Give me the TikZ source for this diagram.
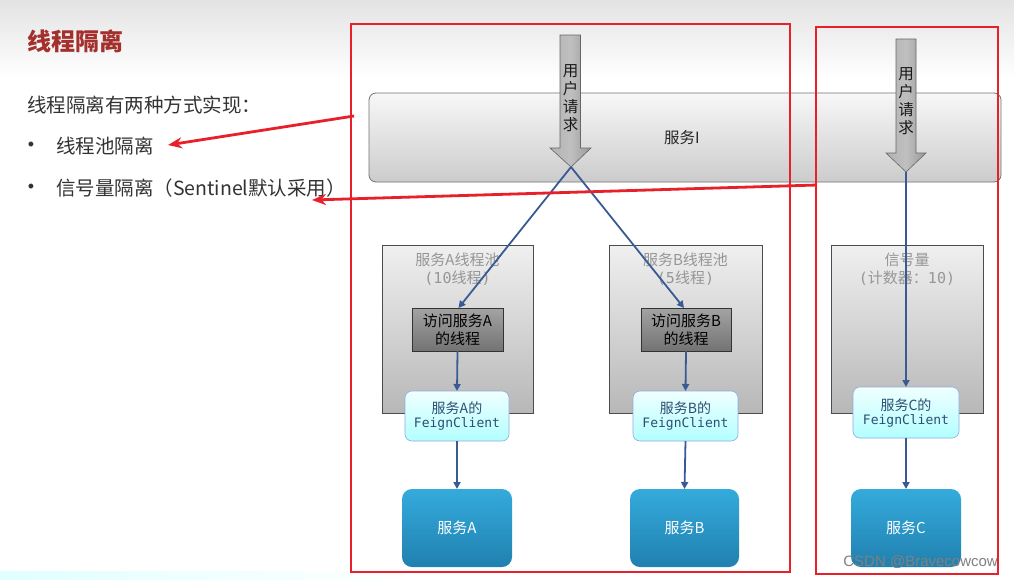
\documentclass[tikz,border=0pt]{standalone}
\usepackage{fontspec}
\setmainfont{Noto Sans CJK SC}
\newfontfamily\monof{DejaVu Sans Mono}
\newfontfamily\latinf{Liberation Sans}
\usetikzlibrary{arrows.meta}
\definecolor{redline}{HTML}{E8202A}
\definecolor{titlered}{HTML}{A3302C}
\definecolor{blueline}{HTML}{3A5A94}
\definecolor{bodytext}{HTML}{333333}
\definecolor{pooltext}{HTML}{969696}
\definecolor{feigntext}{HTML}{2B4F73}
\tikzset{
  nw/.style={anchor=north west, inner sep=0pt, outer sep=0pt},
  svcbar/.style={nw, draw=black!55, line width=0.8pt, rounded corners=7pt, top color=black!3, bottom color=black!20},
  poolbox/.style={nw, draw=black!70, line width=0.8pt, top color=black!6, bottom color=black!28},
  threadbox/.style={nw, draw=black!80, line width=0.8pt, top color=black!36, bottom color=black!55, align=center, font=\fontsize{15}{18}\selectfont, text=black},
  feignbox/.style={nw, draw=cyan!45!blue!45, line width=0.6pt, rounded corners=7pt, top color=cyan!6, bottom color=cyan!30, align=center, text=feigntext},
  svcbox/.style={nw, draw=none, rounded corners=10pt, top color={rgb,255:red,52;green,171;blue,220}, bottom color={rgb,255:red,32;green,128;blue,175}, text=white, font=\fontsize{15}{18}\selectfont},
  pooltxt/.style={text=pooltext, font=\fontsize{15}{17}\selectfont, inner sep=0pt},
  blockarrow/.style={draw=black!60, line width=0.6pt, left color=black!30, right color=black!40, middle color=black!25},
  vtxt/.style={align=center, font=\fontsize{15.5}{18}\selectfont, inner sep=0pt, text=black!90},
  bluearrow/.style={draw=blueline, line width=1.8pt, -{Triangle[length=7pt,width=7pt]}},
  redbox/.style={draw=redline, line width=1.8pt},
  redarrow/.style={draw=redline, line width=2.8pt, -{Stealth[length=14pt,width=11pt]}},
  bullettxt/.style={anchor=center, inner sep=0pt, text=bodytext, font=\latinf\fontsize{18}{20}\selectfont},
  bodytxt/.style={anchor=west, inner sep=0pt, text=bodytext, font=\fontsize{19.5}{24}\selectfont},
}
\newcommand{\ftext}[1]{{\fontsize{14}{17}\selectfont #1}\\[2pt]{\monof\fontsize{13}{16}\selectfont FeignClient}}
\begin{document}
\begin{tikzpicture}[x=1pt,y=-1pt]
\useasboundingbox (0,0) rectangle (1014,579);
\fill[white] (0,0) rectangle (1014,579);
\shade[top color=black!11, bottom color=white] (0,0) rectangle (1014,78);
\shade[left color=cyan!12, right color=white] (0,571) rectangle (420,579);

% left texts
\node[anchor=west, inner sep=0pt, text=titlered, font=\fontsize{24}{28}\selectfont\bfseries] (title) at (27,41) {线程隔离};
\node[bodytxt] (intro) at (27,105) {线程隔离有两种方式实现：};
\node[bullettxt] (dot1) at (31,146) {•};
\node[bodytxt] (b1) at (56,146) {线程池隔离};
\node[bullettxt] (dot2) at (31,188) {•};
\node[bodytxt] (b2) at (56,188) {信号量隔离（Sentinel默认采用）};

% service I bar
\node[svcbar, minimum width=632pt, minimum height=89pt] (svcI) at (369,93) {};
\node[inner sep=0pt, font=\fontsize{15.5}{17}\selectfont, text=black!85] (svcIt) at (682,138) {服务I};

% pools
\node[poolbox, minimum width=151pt, minimum height=168pt] (poolA) at (382,245) {};
\node[pooltxt] (poolAt1) at (457.5,260) {服务A线程池};
\node[pooltxt] (poolAt2) at (457.5,278) {{\monof(10}线程{\monof)}};
\node[poolbox, minimum width=153pt, minimum height=168pt] (poolB) at (609,245) {};
\node[pooltxt] (poolBt1) at (685.5,260) {服务B线程池};
\node[pooltxt] (poolBt2) at (685.5,278) {{\monof(5}线程{\monof)}};
\node[poolbox, minimum width=152pt, minimum height=168pt] (sem) at (831,245) {};
\node[pooltxt] (semt1) at (907,260) {信号量};
\node[pooltxt] (semt2) at (907,278) {{\monof(}计数器：{\monof 10)}};

% thread boxes
\node[threadbox, minimum width=91pt, minimum height=43pt] (thA) at (412,308) {访问服务A\\的线程};
\node[threadbox, minimum width=90pt, minimum height=43pt] (thB) at (641,308) {访问服务B\\的线程};

% feign clients
\node[feignbox, minimum width=104pt, minimum height=50pt] (fA) at (405,391) {\ftext{服务A的}};
\node[feignbox, minimum width=105pt, minimum height=50pt] (fB) at (633,391) {\ftext{服务B的}};
\node[feignbox, minimum width=106pt, minimum height=51pt] (fC) at (853,387) {\ftext{服务C的}};

% services
\node[svcbox, minimum width=110pt, minimum height=78pt] (sA) at (402,489) {服务A};
\node[svcbox, minimum width=109pt, minimum height=78pt] (sB) at (630,489) {服务B};
\node[svcbox, minimum width=110pt, minimum height=78pt] (sC) at (851,489) {服务C};

% user request block arrows
\path[blockarrow] (560,35) -- (580.5,35) -- (580.5,148) -- (591,148) -- (571,167) -- (550,148) -- (560,148) -- cycle;
\coordinate (tip1) at (571,167);
\node[vtxt] (ur1) at (570.5,98) {用\\户\\请\\求};
\path[blockarrow] (896,39) -- (916,39) -- (916,153) -- (926,153) -- (906,172) -- (886,153) -- (896,153) -- cycle;
\coordinate (tip2) at (906,172);
\node[vtxt] (ur2) at (906,101) {用\\户\\请\\求};

% blue connectors
\draw[bluearrow] (tip1) -- ([xshift=1pt]thA.north);
\draw[bluearrow] (tip1) -- ([xshift=-2pt]thB.north);
\draw[bluearrow] (thA.south) -- (fA.north);
\draw[bluearrow] (thB.south) -- (fB.north);
\draw[bluearrow] (fA.south) -- (sA.north);
\draw[bluearrow] (fB.south) -- (sB.north);
\draw[bluearrow] (tip2) -- (tip2 |- fC.north);
\draw[bluearrow] (fC.south) -- (sC.north);

% red annotations
\draw[redbox] (351,24) rectangle (790,572);
\draw[redbox] (816,27) rectangle (998,574);
\coordinate (ra1s) at (354,116);
\coordinate (ra1e) at (168,145);
\draw[redarrow] (ra1s) -- (ra1e);
\coordinate (ra2s) at (817,185);
\coordinate (ra2e) at (312,200);
\draw[redarrow] (ra2s) -- (ra2e);

% watermark
\node[anchor=east, inner sep=0pt, text=black!50, font=\latinf\fontsize{15}{18}\selectfont] (wm) at (998,562) {CSDN @Bravecowcow};
\end{tikzpicture}
\end{document}
